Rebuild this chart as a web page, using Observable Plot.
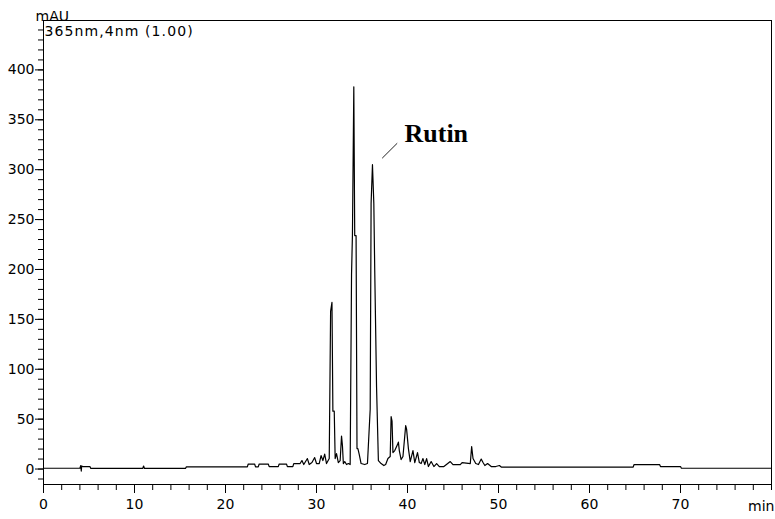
<!DOCTYPE html>
<html>
<head>
<meta charset="utf-8">
<script src="https://cdn.jsdelivr.net/npm/d3@7"></script>
<script src="https://cdn.jsdelivr.net/npm/@observablehq/plot@0.6"></script>
<style>
  html, body { margin: 0; padding: 0; background: #fff; }
</style>
</head>
<body>
<div id="chart"></div>
<script>
// Retention time (min) and absorbance (mAU)
const times = [
  0, 4.0, 4.1, 4.15, 4.2, 4.3, 5.1, 5.2, 10.9, 11.0, 11.1, 15.6, 15.7,
  22.4, 22.5, 23.2, 23.3, 23.6, 23.7, 24.7, 24.8, 25.8, 25.9, 26.7, 26.8, 27.4, 27.5,
  28.2, 28.4, 28.6, 29.0, 29.2, 29.5, 29.8, 30.0, 30.3, 30.5, 30.7, 30.9, 31.1, 31.4,
  31.55, 31.7, 31.8, 31.95, 32.05, 32.2, 32.4, 32.6, 32.75, 32.85, 32.95, 33.1, 33.3,
  33.5, 33.7, 33.85, 33.95, 34.1, 34.2, 34.35, 34.45, 34.55, 34.7, 34.9, 35.3, 35.6,
  35.9, 36.0, 36.15, 36.3, 36.4, 36.6, 36.8, 37.1, 37.4, 37.6, 37.85, 38.1, 38.2, 38.3,
  38.4, 38.6, 38.9, 39.0, 39.1, 39.3, 39.5, 39.8, 39.9, 40.1, 40.3, 40.6, 40.8, 41.1,
  41.3, 41.5, 41.7, 41.9, 42.1, 42.3, 42.6, 42.9, 43.2, 43.5, 44.0, 44.7, 45.0, 45.8,
  46.0, 46.9, 47.05, 47.2, 47.5, 47.8, 48.1, 48.3, 48.5, 48.8, 49.2, 49.7, 50.1, 50.3,
  64.8, 64.9, 67.7, 67.8, 70.0, 70.1, 80
];
const mAU = [
  0.8, 0.8, 3.5, -2, 3, 2.5, 2.5, 0.6, 0.6, 3, 0.6, 0.6, 2.2,
  2.2, 5, 5, 2.2, 2.2, 5, 5, 2.4, 2.4, 5, 5, 2.4, 2.4, 5.5,
  5.5, 8.5, 4.5, 10.5, 4.5, 6.5, 11.5, 5.5, 5.5, 13.5, 8.5, 15, 5.5, 10.5,
  158, 167, 58, 58, 10.5, 15.5, 6.5, 8.5, 33, 23.5, 5.5, 7.5, 4.5,
  5.5, 4.5, 195, 235, 383, 234, 234, 20.5, 20.5, 14.5, 5.5, 4.5, 5.5,
  60, 266, 305, 266, 199, 82, 8.5, 5.5, 3.5, 4.5, 10.5, 12.5, 52.5, 48,
  16.5, 18.5, 24.5, 27, 18.5, 9.5, 12.5, 43.5, 40, 20.5, 7.5, 18.5, 6.5, 16.5,
  6.5, 5.5, 10.5, 4.5, 10.5, 2.5, 7.5, 2.5, 5.5, 2.5, 2.5, 7.5, 4.5, 4.5,
  6.5, 5.5, 22.5, 10.5, 5.5, 4.5, 10, 6.5, 3.5, 5.5, 2.5, 2.5, 3.5, 2,
  2, 4.5, 4.5, 2.5, 2.5, 0.8, 0.8
];

const yMajorTicks = [0, 50, 100, 150, 200, 250, 300, 350, 400];
const yMinorTicks = d3.range(-10, 450, 10);
const xMajorTicks = [0, 10, 20, 30, 40, 50, 60, 70];
const xMinorTicks = d3.range(0, 81, 2);

const yUnit = ["mAU"];
const channel = ["365nm,4nm (1.00)"];
const xUnit = ["min"];

// Peak annotation (leader line and label), in data units
const leaderX1 = [37.22], leaderY1 = [311.5], leaderX2 = [38.87], leaderY2 = [326.5];
const peakLabel = ["Rutin"], peakLabelX = [39.67], peakLabelY = [336];

const data = times.map((t, i) => ({t, v: mAU[i]}));
const leader = leaderX1.map((x1, i) => ({x1, y1: leaderY1[i], x2: leaderX2[i], y2: leaderY2[i]}));
const labels = peakLabel.map((name, i) => ({name, x: peakLabelX[i], y: peakLabelY[i]}));

const chart = Plot.plot({
  width: 775,
  height: 519,
  marginLeft: 43,
  marginRight: 4,
  marginTop: 20,
  marginBottom: 35,
  x: {domain: [0, 80], label: null},
  y: {domain: [-15.5, 449.5], label: null},
  style: {fontFamily: "'DejaVu Sans', sans-serif", fontSize: "14px", color: "black", background: "white", overflow: "visible"},
  marks: [
    Plot.frame({stroke: "black", strokeWidth: 1}),
    Plot.axisY(yMinorTicks, {tickSize: 5, tickFormat: () => "", label: null, strokeWidth: 1}),
    Plot.axisY(yMajorTicks, {tickSize: 8, tickPadding: 1, label: null, strokeWidth: 1}),
    Plot.axisX(xMinorTicks, {tickSize: 6, tickFormat: () => "", label: null, strokeWidth: 1}),
    Plot.axisX(xMajorTicks, {tickSize: 9, tickPadding: 6, label: null, strokeWidth: 1}),
    Plot.line(data, {x: "t", y: "v", stroke: "black", strokeWidth: 1.2}),
    Plot.link(leader, {x1: "x1", y1: "y1", x2: "x2", y2: "y2", stroke: "#222", strokeWidth: 1}),
    Plot.text(labels, {x: "x", y: "y", text: "name", textAnchor: "start", lineAnchor: "middle",
      fontFamily: "'Liberation Serif', serif", fontWeight: "bold", fontSize: 26}),
    Plot.text(yUnit, {text: d => d, frameAnchor: "top-left", textAnchor: "start", lineAnchor: "bottom", dx: -8, dy: 0}),
    Plot.text(channel, {text: d => d, frameAnchor: "top-left", textAnchor: "start", lineAnchor: "top", dx: 1, dy: 6}),
    Plot.text(xUnit, {text: d => d, frameAnchor: "bottom-right", textAnchor: "end", lineAnchor: "middle", dx: 3, dy: 22})
  ]
});
// widen the channel caption slightly, as in the reference
d3.select(chart).selectAll("text").filter(function() { return this.textContent === channel[0]; })
  .style("letter-spacing", "1.1px");
document.getElementById("chart").appendChild(chart);
</script>
</body>
</html>
